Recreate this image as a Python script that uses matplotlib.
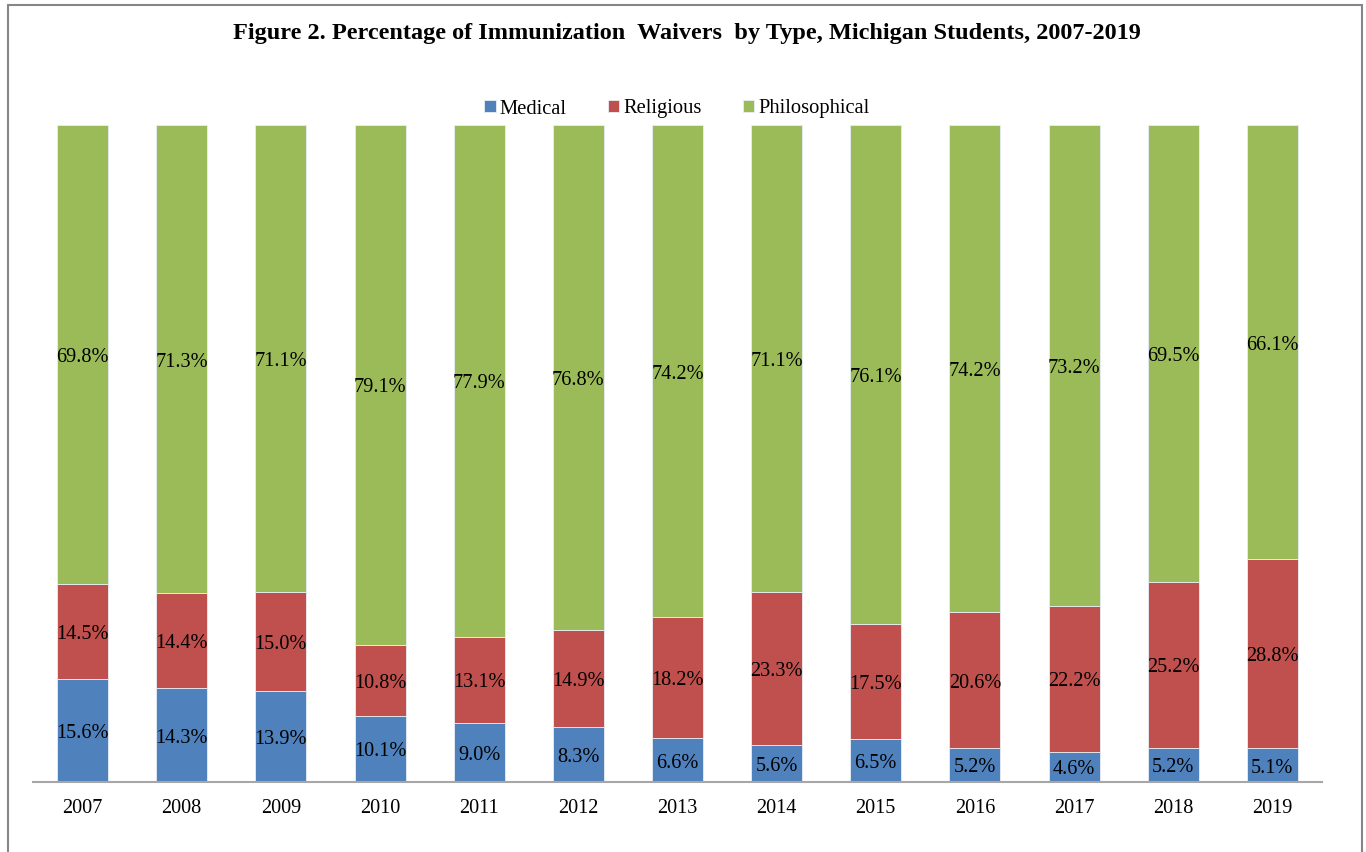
import matplotlib
matplotlib.use("Agg")
import matplotlib.pyplot as plt
from matplotlib.patches import Rectangle
import numpy as np

years = ["2007", "2008", "2009", "2010", "2011", "2012", "2013",
         "2014", "2015", "2016", "2017", "2018", "2019"]
medical = [15.6, 14.3, 13.9, 10.1, 9.0, 8.3, 6.6, 5.6, 6.5, 5.2, 4.6, 5.2, 5.1]
religious = [14.5, 14.4, 15.0, 10.8, 13.1, 14.9, 18.2, 23.3, 17.5, 20.6, 22.2, 25.2, 28.8]
philosophical = [69.8, 71.3, 71.1, 79.1, 77.9, 76.8, 74.2, 71.1, 76.1, 74.2, 73.2, 69.5, 66.1]

series = [("Medical", medical, "#4F81BD"),
          ("Religious", religious, "#C0504D"),
          ("Philosophical", philosophical, "#9BBB59")]

plt.rcParams["font.family"] = ["Liberation Serif", "DejaVu Serif"]

W, H = 1366, 852
fig = plt.figure(figsize=(W / 100, H / 100), dpi=100)
ax = fig.add_axes([33 / W, (H - 782) / H, (1322 - 33) / W, (782 - 125) / H])

x = np.arange(len(years))
totals = np.sum([np.array(v) for _, v, _ in series], axis=0)
bottom = np.zeros(len(years))
for name, vals, color in series:
    vals = np.array(vals)
    share = vals / totals * 100  # 100% stacked
    ax.bar(x, share, width=0.515, bottom=bottom, color=color,
           edgecolor="#E8EEF4", linewidth=0.6, label=name)
    for xi, b, s, v in zip(x, bottom, share, vals):
        ax.annotate(f"{v:.1f}%", (xi, b + s / 2), xytext=(0, -2.2),
                    textcoords="offset points", ha="center", va="center",
                    fontsize=14.6, color="black")
    bottom += share

ax.set_xlim(-0.5, len(years) - 0.5)
ax.set_ylim(0, 100)
ax.set_xticks(x)
ax.set_xticklabels(years, fontsize=14.6)
ax.tick_params(axis="x", length=0, pad=12)
ax.set_yticks([])
for side in ("left", "top", "right"):
    ax.spines[side].set_visible(False)
ax.spines["bottom"].set_color("#A6A6A6")
ax.spines["bottom"].set_linewidth(1.5)

fig.text(687 / W, 1 - 34 / H,
         "Figure 2. Percentage of Immunization  Waivers  by Type, Michigan Students, 2007-2019",
         ha="center", va="center", fontsize=17.5, fontweight="bold")

leg = fig.legend(loc="center", bbox_to_anchor=(677 / W, 1 - 109 / H), ncol=3,
                 frameon=False, fontsize=14.8, handlelength=0.55, handleheight=0.55,
                 handletextpad=0.2, columnspacing=2.0)

fig.patches.append(Rectangle((8 / W, -0.05), (1362 - 8) / W, 1.05 - 5 / H,
                             transform=fig.transFigure, fill=False,
                             edgecolor="#868686", linewidth=1.5))

fig.savefig("out.png", dpi=100)
